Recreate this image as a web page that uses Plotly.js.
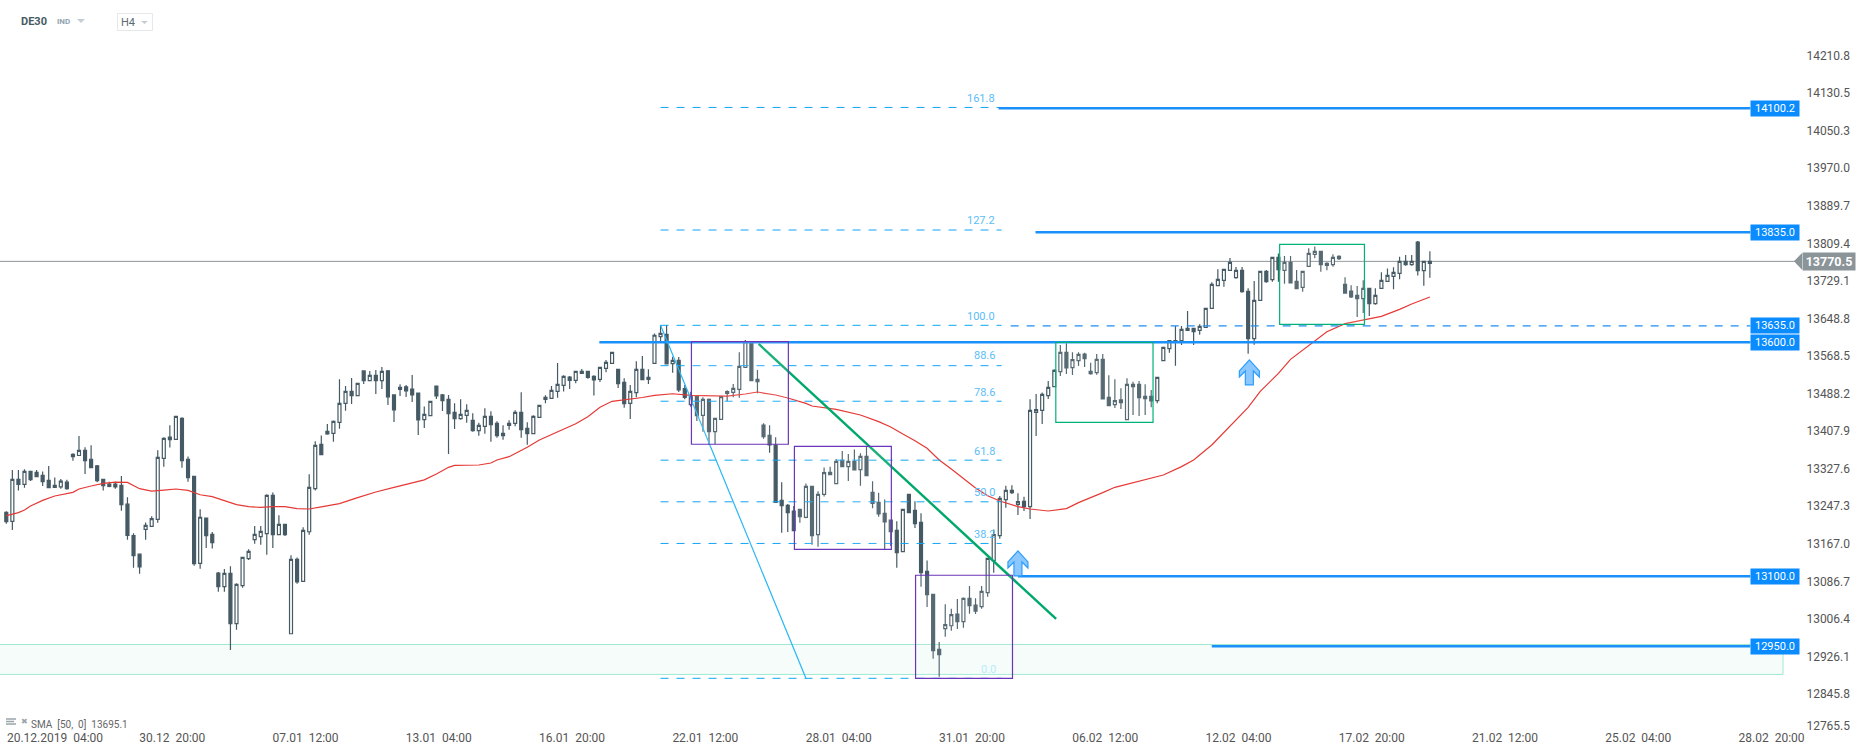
<!DOCTYPE html>
<html><head><meta charset="utf-8">
<script src="https://cdn.plot.ly/plotly-3.0.1.min.js"></script>
<style>html,body{margin:0;padding:0;background:#fff;overflow:hidden}#chart{width:1866px;height:756px}</style>
</head><body><div id="chart"></div>
<script>
const opens=[13236.5,13217,13307,13296.4,13324,13322,13315.6,13305,13290,13291,
13301,13355.5,13358,13369,13350,13335.6,13307,13292,13297,13294,
13254,13187,13147,13200,13206.6,13221.5,13352,13397.5,13392.6,13437.5,
13350,13313.5,13127.5,13224.4,13189.5,13106.8,13077.6,13106,12998.5,13079.7,
13137.5,13178,13184.5,13191,13272.8,13188.8,13210.8,12977,13136,13089,
13195,13287,13381.9,13409.7,13405.4,13429,13469.5,13495,13486,13538.7,
13518,13529.4,13518,13538.7,13487.4,13499.5,13504.5,13500,13491.6,13434.6,
13443.2,13506.6,13487.4,13478,13450.3,13436.8,13443.9,13433.2,13411,13420.4,
13441.8,13426.8,13400.4,13422.5,13426.8,13450.3,13416,13404.7,13439.6,13478,
13480.2,13495,13508,13525.8,13518.7,13538,13538,13527.3,13520.8,13544.4,
13555,13542.2,13514.4,13469.5,13492.4,13542.2,13520.8,13555,13612,13617,
13554.3,13561.4,13500.8,13466.6,13485,13443.8,13478,13408.9,13435.3,13490.8,
13493,13499.4,13546.4,13599.9,13515.8,13423.2,13401,13380.4,13262,13251.4,
13239.3,13242.9,13225.8,13292,13188.7,13275,13322,13297.7,13347.6,13334,
13345.5,13327.7,13356,13279,13257.8,13234.3,13220,13198,13152.4,13275,
13240.7,13215,13110.3,13061.1,12943.6,12987.8,12994,13019,13002.7,13052.6,
13038.3,13034.9,13064.8,13133,13186.6,13263.6,13283.6,13253.6,13260,13248.6,
13450.3,13454.6,13486,13505.2,13537.2,13578.6,13545.8,13560.8,13575,13533,
13535,13563.6,13482.4,13466.7,13476.7,13434.6,13510.2,13510.2,13479.5,13484.5,
13475.2,13560.8,13586.3,13603.7,13603.4,13625.5,13629.8,13625.5,13632,13672.6,
13721,13732.4,13753.8,13738.1,13753.8,13708.9,13607.7,13689.7,13751.7,13733.8,
13781.6,13753.8,13770.9,13730.3,13717.5,13762.3,13788,13794.4,13764.5,13765.9,
13778.7,13723.9,13709.6,13700.4,13693.2,13715.3,13682.5,13715.3,13730.3,13740.9,
13747.4,13773,13765.9,13814.4,13753.1,13768.8];
const highs=[13239,13327,13327,13328.4,13324,13327,13324,13335.6,13311,13308,
13306,13362.6,13399.7,13375.5,13380,13337.7,13307,13302,13302,13314,
13269,13192,13147,13215,13228,13369,13397,13422.5,13441.7,13439.6,
13356,13313.5,13243,13224.4,13194.5,13109,13115.4,13121,13084.7,13140.3,
13157.4,13207.3,13207.3,13275,13279,13230,13210.8,13144.6,13140,13204.4,
13317.7,13388.3,13401,13425.3,13433,13520.8,13506.6,13523.7,13512.3,13538.7,
13538.7,13540.8,13547.2,13540.8,13487.4,13510.2,13508.7,13530,13491.6,13463,
13473.8,13506.6,13489.5,13487.4,13469.5,13478,13467.4,13448.2,13428.2,13458.9,
13452.4,13431,13422.5,13433.2,13454.6,13493,13429,13444,13465.3,13486.7,
13506.6,13555.8,13529.4,13528,13538,13543,13538,13529.4,13546.5,13562,
13578.6,13542.2,13523,13508.7,13559.3,13570.7,13542.2,13619,13637,13637,
13569,13568.5,13508.7,13494.4,13485,13482.3,13480,13437.4,13483.7,13497.3,
13510.8,13578.5,13604.9,13599.9,13540.7,13426.7,13422.4,13396.8,13300.6,13254.3,
13250,13242.9,13298.4,13292,13281.4,13332.6,13334,13350.5,13367.6,13361,
13371,13362.6,13378.3,13302.7,13278.5,13264,13220,13217.2,13242.9,13275,
13260,13234.3,13133.8,13061.1,12959.2,13039.8,13030.5,13051,13054.7,13079,
13052.6,13079,13138.2,13200,13271.5,13293.5,13294.2,13277.2,13270,13478,
13489.5,13492.4,13517.3,13542.2,13594.3,13597.8,13578.6,13578.6,13577.9,13556.5,
13575,13575,13529.4,13520.8,13501.6,13523,13515.9,13517.3,13510.2,13498,
13525.1,13589.3,13603.4,13634.8,13634.8,13666.9,13629.8,13638.4,13672.6,13728.1,
13756,13756,13780.2,13760.9,13760.9,13715.3,13731,13751.7,13754.5,13781.6,
13790,13784.4,13784.4,13754.5,13751.7,13800.8,13805,13794.4,13770.9,13788,
13785.9,13738.8,13721.7,13720.3,13732.4,13715.3,13715.3,13749.5,13758,13760.2,
13783,13786.6,13786.6,13816.5,13773,13794.4];
const lows=[13212,13199,13283,13289,13303.5,13313,13293,13289,13289,13287,
13285,13347,13358,13318.5,13332,13301,13283,13290,13287,13240,
13178,13118,13105.4,13178,13206.6,13214.4,13334,13375,13392.6,13332,
13302,13122.5,13116,13160,13159,13067,13067,12942,12985.7,13075.5,
13134.6,13169.5,13167.4,13146,13160,13188.8,13186,12977,13084,13089,
13188.8,13283,13359.8,13402.5,13387.6,13415.4,13453.9,13468,13486,13510.9,
13518,13489.5,13500,13466,13429.6,13485.2,13483,13472.4,13401.9,13416.8,
13443.2,13478.8,13453.2,13361.2,13414.7,13434.6,13428.2,13409,13400.4,13404.7,
13387.6,13396.2,13391.9,13413.3,13420.4,13396.2,13381.2,13404.7,13439.6,13469.5,
13480.2,13481.7,13495,13500,13512.3,13532.3,13522.3,13486,13515,13535.8,
13555,13502.3,13460.3,13436,13482.4,13520,13510.9,13555,13602.7,13553.6,
13535,13493.7,13478,13462.3,13431.7,13408.9,13380.4,13382.5,13435.3,13473.7,
13482.3,13481.6,13546.4,13517.9,13490.9,13394,13364,13257.8,13193,13194.4,
13197.3,13214.4,13223.6,13167.3,13163,13270.6,13317,13297.7,13334,13303.4,
13327,13293.5,13314.8,13245,13227.2,13157.4,13164.5,13118.2,13152.4,13235.7,
13203,13077.5,13034,12923.6,12885,12970.6,12983.5,12987,12989.9,13019.8,
13019,13030.6,13056.2,13107.5,13180.2,13246.5,13275.7,13230.8,13239.4,13222.3,
13399.7,13425.4,13478.8,13505.2,13528,13532.3,13530.1,13549.4,13547.2,13530.8,
13530.8,13478.8,13464.6,13459.6,13457.4,13434.6,13444.6,13442.5,13444.6,13461,
13469.5,13560.8,13577.8,13550,13594.2,13625.5,13594.2,13616.3,13632,13672.6,
13721,13718.9,13753.8,13736,13706,13575.6,13595,13689.7,13727.4,13729.6,
13729.6,13725.3,13726.7,13714.6,13708.2,13762.3,13779.5,13750.9,13753.8,13761.6,
13775.9,13705.3,13694.6,13654,13662.6,13656.2,13680.4,13715.3,13730.3,13713.2,
13734.6,13763.8,13763.8,13743,13721,13738.1];
const closes=[13216.5,13307,13296,13324,13306.3,13313,13302,13289,13294,13303,
13287,13360.5,13369,13347,13332,13304,13293.5,13297,13291,13253,
13187,13144,13120,13208.7,13223,13354,13394.7,13392,13441.7,13347,
13310.6,13126.8,13226,13186.6,13171.6,13077.6,13106,12998.5,13082.6,13140.3,
13153,13189.5,13196,13272.8,13188.8,13210.8,13188.8,13136,13088,13198,
13290,13379.7,13359.8,13404,13431,13469.5,13495,13486,13512.3,13518,
13529.4,13518,13538,13483,13455.3,13503.8,13496,13487.4,13434,13446,
13473.8,13485.2,13475.3,13447.5,13436.8,13446,13454.6,13411,13422.5,13441.8,
13424,13400.4,13405.4,13426.8,13450.3,13413.3,13404.7,13441.8,13465.3,13482.4,
13497.3,13510.2,13527.3,13518.7,13538,13533.7,13525,13519.4,13546.5,13557.2,
13578.6,13511.6,13468.8,13495,13542.2,13520,13525,13615,13619,13553.6,
13561.4,13498,13482.3,13485,13443,13478,13408.9,13437.4,13483.7,13494.4,
13501.5,13548.6,13601.3,13517.9,13520.8,13398.2,13380.4,13257.8,13250.7,13235.7,
13197.3,13227.2,13292,13186.6,13275,13321.3,13317,13345.5,13334,13345.5,
13327,13356,13314.8,13255.7,13232.9,13215.8,13195,13150.2,13242.9,13235.7,
13212.2,13107.5,13060.4,12940.7,12932.2,12996.3,13018,13002.7,13052.6,13037,
13025.5,13067.6,13138.2,13188.8,13266.5,13283.6,13278.6,13259.3,13248.6,13454.6,
13456,13488.8,13503.8,13540,13578.6,13545,13562.9,13574.3,13565,13538,
13563.6,13478.8,13464.6,13475.3,13471,13510.2,13505.2,13481.7,13484.5,13474.5,
13525.1,13589.3,13603.4,13603,13627.7,13629.8,13622.7,13634,13672.6,13723.9,
13734.6,13756,13770.9,13753.8,13708.2,13607.7,13689.7,13751.7,13729.6,13781.6,
13755.2,13770.9,13726.7,13714.6,13751.7,13790,13794.4,13765.9,13768.8,13781.6,
13783.7,13705.3,13696.8,13693.2,13715.3,13682.5,13700.4,13732.4,13743.1,13749.5,
13773,13765.9,13773,13753.1,13773,13773];
const barIndex=opens.map((_,i)=>i);

const smaIdx=[0,2,3,4,6,8,11,12,14,16,18,20,22,24,26,28,30,32,34,36,38,40,42,44,46,48,50,52,55,58,61,64,67,69,71,73,74,78,80,81,83,86,88,91,94,96,98,100,103,105,107,110,113,116,119,122,124,127,129,132,133,137,141,144,146,148,150,152,154,156,158,160,162,164,167,169,172,175,177,179,181,183,186,189,191,194,196,199,201,203,205,207,210,212,215,218,221,225,227,230,232,235];
const smaVal=[13229.4,13235.8,13241.5,13250,13262,13271.4,13279.3,13286.4,13292.8,13298.5,13301,13300.6,13287,13282,13284,13286.4,13283.5,13274,13270,13261.5,13253,13248.6,13247,13248.6,13248.6,13244.3,13243.6,13248,13255,13268,13280,13290,13300.6,13306,13318.5,13332.7,13337,13337.7,13342,13348.4,13355.5,13375.5,13391,13408,13426,13441,13461,13473.8,13478,13482,13486.6,13490,13486.6,13486.6,13485,13489.4,13493.7,13487.3,13481,13469.5,13463.8,13456.6,13444.5,13430.3,13418.9,13403.9,13389.7,13373.3,13348.3,13329,13309,13288.5,13272,13260.7,13248.6,13243.6,13239.4,13244.4,13257.2,13267.2,13278.6,13290,13300,13308.5,13316.3,13334.2,13348.4,13380.5,13406.8,13433.8,13461,13495,13533.6,13563.5,13594,13622.7,13639.8,13651.2,13655.5,13670.4,13681.8,13696.8];

const yTickVals=[14210.8,14130.5,14050.3,13970.0,13889.7,13809.4,13729.1,13648.8,13568.5,13488.2,13407.9,13327.6,13247.3,13167.0,13086.7,13006.4,12926.1,12845.8,12777.6];
const yTickText=['14210.8','14130.5','14050.3','13970.0','13889.7','13809.4','13729.1','13648.8','13568.5','13488.2','13407.9','13327.6','13247.3','13167.0','13086.7','13006.4','12926.1','12845.8','12765.5'];
const xTickVals=[8.04,27.4,49.4,71.4,93.4,115.4,137.4,159.4,181.4,203.4,225.4,247.4,269.4,291.4];
const xTickText=['20.12.2019  04:00','30.12  20:00','07.01  12:00','13.01  04:00','16.01  20:00','22.01  12:00','28.01  04:00','31.01  20:00','06.02  12:00','12.02  04:00','17.02  20:00','21.02  12:00','25.02  04:00','28.02  20:00'];

const fibStart=108, fibEnd=164.3;
const fibLevels=[14102,13840,13636.3,13550,13474,13348,13259,13170,12881.7];
const fibText=['161.8','127.2','100.0','88.6','78.6','61.8','50.0','38.2','0.0'];
const fibLabelX=[160.9,160.9,160.9,161.5,161.5,161.5,161.5,161.5,162.1];
const fibLabelY=[14120.7,13860.8,13654.7,13570.7,13493,13366,13278,13190,12901.6];

const levelVal=[14100.2,13835,13600,13100,12950];
const levelStart=[163.8,169.9,97.9,167,199];
const levelTag=['14100.2','13835.0','13600.0','13100.0','12950.0'];
const dashedVal=13635, dashedStart=165.8;
const levelEnd=287.9;
const lastPrice=13773, lastText='13770.5';

const purpleX0=[113.1,130.1,150.1], purpleX1=[129.1,146.1,166.1];
const purpleY0=[13601.3,13377.7,13102], purpleY1=[13382,13157.5,12881.7];
const greenX0=[173.25,210.2], greenX1=[189.3,224.2];
const greenY0=[13600,13809.5], greenY1=[13429,13638.5];

const W=1800,H=730;
const px=x=>x/W, py=y=>1-y/H;
const slate='#455a64';
const ann=(x,y,text,o={})=>Object.assign({xref:'paper',yref:'paper',x:px(x),y:py(y),text,showarrow:false,xanchor:'left',yanchor:'middle',font:{family:'Roboto',size:11,color:'#555'}},o);
const tri=(x0,x1,y0,y1,c)=>({type:'path',xref:'paper',yref:'paper',layer:'above',fillcolor:c,line:{width:0},
  path:`M${px(x0)},${py(y0)} L${px(x1)},${py(y0)} L${px((x0+x1)/2)},${py(y1)} Z`});

const shapes=[];
// support zone: fill, then top, bottom and right edges only
shapes.push({type:'rect',xref:'paper',yref:'y',x0:0,x1:px(1783),y0:12890,y1:12954,layer:'below',fillcolor:'#f5fcfa',line:{width:0}});
[12890,12954].forEach(v=>shapes.push({type:'line',xref:'paper',yref:'y',x0:0,x1:px(1783),y0:v,y1:v,layer:'below',line:{color:'#9fe8d2',width:1}}));
shapes.push({type:'line',xref:'paper',yref:'y',x0:px(1783),x1:px(1783),y0:12890,y1:12954,layer:'below',line:{color:'#9fe8d2',width:1}});
// last price
shapes.push({type:'line',xref:'paper',yref:'y',x0:0,x1:px(1796),y0:lastPrice,y1:lastPrice,layer:'below',line:{color:'#8c9396',width:1}});
// fibonacci
fibLevels.forEach(v=>shapes.push({type:'line',xref:'x',yref:'y',x0:fibStart,x1:fibEnd,y0:v,y1:v,layer:'above',line:{color:'#0ea5f5',width:1,dash:'8px,8px'}}));
shapes.push({type:'line',xref:'x',yref:'y',x0:dashedStart,x1:levelEnd,y0:dashedVal,y1:dashedVal,layer:'above',line:{color:'#1e8ff0',width:1.2,dash:'8px,8px'}});
// levels
levelVal.forEach((v,i)=>shapes.push({type:'line',xref:'x',yref:'y',x0:levelStart[i],x1:levelEnd,y0:v,y1:v,layer:'above',line:{color:'#1a90fa',width:2.5}}));
// trend lines
shapes.push({type:'line',xref:'x',yref:'y',x0:108,x1:132,y0:13636.3,y1:12881.7,layer:'above',line:{color:'#29b6f6',width:1.2}});
shapes.push({type:'line',xref:'x',yref:'y',x0:124.2,x1:173.3,y0:13596.4,y1:13008.5,layer:'above',line:{color:'#00a86b',width:2.4}});
// boxes
purpleX0.forEach((_,i)=>shapes.push({type:'rect',xref:'x',yref:'y',x0:purpleX0[i],x1:purpleX1[i],y0:purpleY0[i],y1:purpleY1[i],layer:'above',fillcolor:'rgba(255,255,255,0.1)',line:{color:'#6a35b8',width:1.2}}));
greenX0.forEach((_,i)=>shapes.push({type:'rect',xref:'x',yref:'y',x0:greenX0[i],x1:greenX1[i],y0:greenY0[i],y1:greenY1[i],layer:'above',fillcolor:'rgba(255,255,255,0.1)',line:{color:'#00b27a',width:1.2}}));
// arrows
const arrowPath='M0,0 L10,-11 L10,-17 L4,-11 L4,-25 L-4,-25 L-4,-11 L-10,-17 L-10,-11 Z';
[[167,13153.9],[205.2,13562.2]].forEach(a=>shapes.push({type:'path',xref:'x',yref:'y',xsizemode:'pixel',ysizemode:'pixel',xanchor:a[0],yanchor:a[1],path:arrowPath,layer:'above',fillcolor:'#8cc8ff',line:{color:'#2a9dff',width:1.2}}));
// last price tag pointer
shapes.push({type:'path',xref:'paper',yref:'y',layer:'above',fillcolor:'#8a9499',line:{width:0},
  path:`M${px(1794)},${lastPrice} L${px(1802)},${lastPrice+18} L${px(1802)},${lastPrice-18} Z`});
// header triangles
shapes.push(tri(77,85,19,23,'#c5ced3'));
shapes.push(tri(141,148,21,24,'#c5ced3'));
// H4 box
shapes.push({type:'rect',xref:'paper',yref:'paper',x0:px(117.5),x1:px(152.5),y0:py(13.5),y1:py(30.5),layer:'above',line:{color:'#e4e8ea',width:1},fillcolor:'rgba(0,0,0,0)'});
// legend icon
[719,721.5,724].forEach((y,i)=>shapes.push({type:'line',xref:'paper',yref:'paper',x0:px(6),x1:px(i==1?14:16),y0:py(y),y1:py(y),layer:'above',line:{color:'#9aa5aa',width:1.5}}));

const annotations=[];
fibText.forEach((t,i)=>annotations.push({xref:'x',yref:'y',x:fibLabelX[i],y:fibLabelY[i],text:t,showarrow:false,xanchor:'center',yanchor:'middle',font:{family:'Roboto',size:11,color:t==='0.0'?'#b5ecfa':'#5bbdf8'}}));
const tagFont={family:'Roboto',size:11,color:'#fff'};
const tagOpts={xref:'paper',yref:'y',showarrow:false,xanchor:'left',yanchor:'middle',width:48,height:15,bgcolor:'#0a8cff',borderpad:0,align:'center',font:tagFont};
levelVal.forEach((v,i)=>annotations.push(Object.assign({x:px(1750),y:v,text:levelTag[i]},tagOpts)));
annotations.push(Object.assign({x:px(1750),y:dashedVal,text:'13635.0'},tagOpts));
annotations.push({xref:'paper',yref:'y',x:px(1802),y:lastPrice,xanchor:'left',yanchor:'middle',showarrow:false,width:52,height:17,bgcolor:'#8a9499',borderpad:0,align:'center',text:'<b>'+lastText+'</b>',font:{family:'Roboto',size:12.5,color:'#fff'}});
annotations.push(ann(19,22,'<b>DE30</b>',{font:{family:'Roboto',size:11,color:slate}}));
annotations.push(ann(55,22,'<b>IND</b>',{font:{family:'Roboto',size:8,color:'#90a4ae'}}));
annotations.push(ann(119,22.5,'H4',{font:{family:'Roboto',size:11,color:'#5a6a72'}}));
annotations.push(ann(19,721,'✖',{font:{family:'Roboto',size:8,color:'#9aa5aa'}}));
annotations.push(ann(29,724,'SMA  [50,  0]  13695.1',{font:{family:'Roboto',size:10,color:'#666'}}));

const traces=[
 {type:'candlestick',x:barIndex,open:opens,high:highs,low:lows,close:closes,whiskerwidth:0,hoverinfo:'skip',
  increasing:{line:{color:slate,width:1.2},fillcolor:'#ffffff'},
  decreasing:{line:{color:slate,width:1.2},fillcolor:slate}},
 {type:'scatter',mode:'lines',x:smaIdx,y:smaVal,line:{color:'#e53935',width:1.2},hoverinfo:'skip'}
];
const layout={width:1866,height:756,margin:{l:0,r:66,t:0,b:26,pad:0},paper_bgcolor:'#fff',plot_bgcolor:'#fff',showlegend:false,dragmode:false,
 xaxis:{type:'linear',range:[-1.04,296.1],rangeslider:{visible:false},showgrid:false,zeroline:false,showline:false,tickmode:'array',tickvals:xTickVals,ticktext:xTickText,ticks:'',tickfont:{family:'Roboto',size:12,color:'#555'},ticklabelstandoff:-1},
 yaxis:{side:'right',range:[12771.2,14331.7],showgrid:false,zeroline:false,showline:false,tickmode:'array',tickvals:yTickVals,ticktext:yTickText,ticks:'outside',ticklen:3,tickcolor:'rgba(0,0,0,0)',tickfont:{family:'Roboto',size:12,color:'#555'},ticklabelshift:-1},
 shapes,annotations};
Plotly.newPlot('chart',traces,layout,{displayModeBar:false,staticPlot:true});
</script></body></html>
